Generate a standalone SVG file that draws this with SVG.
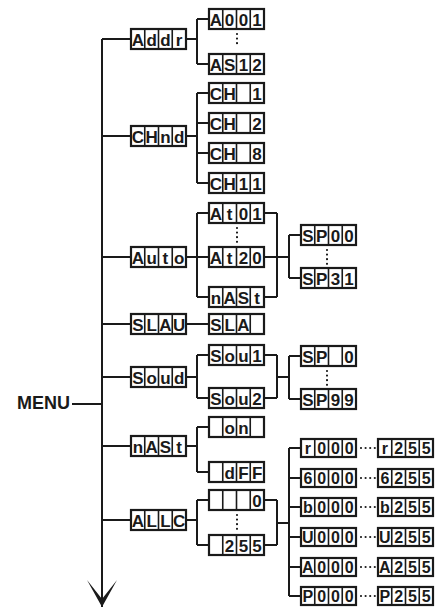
<svg xmlns="http://www.w3.org/2000/svg" width="435" height="611" viewBox="0 0 435 611">
<style>
.bg{fill:#fff}
.ln{fill:none;stroke:#1a1a1a;stroke-width:2}
.dots{fill:none;stroke:#1a1a1a;stroke-width:2.2;stroke-linecap:round;stroke-dasharray:0 4.6}
.box{fill:#fff;stroke:#1a1a1a;stroke-width:2.2}
.div{fill:none;stroke:#1a1a1a;stroke-width:1.6}
.ch{font-family:"Liberation Sans","DejaVu Sans",sans-serif;font-weight:bold;font-size:17px;text-anchor:middle;fill:#1a1a1a}
.sm{font-size:16px}
.menu{font-family:"Liberation Sans","DejaVu Sans",sans-serif;font-weight:bold;font-size:18px;text-anchor:end;fill:#1a1a1a}
</style>
<defs>
<marker id="arrow" markerUnits="userSpaceOnUse" viewBox="0 0 27 30" refX="27" refY="15" markerWidth="27" markerHeight="30" orient="auto">
<path d="M0,0 L27,15 L0,30 L19,15 Z" fill="#1a1a1a"/>
</marker>
<g id="cells20"><rect class="box" width="55" height="20"/><path class="div" d="M13.75,0V20M27.5,0V20M41.25,0V20"/></g>
<g id="cells18"><rect class="box" width="55" height="18"/><path class="div" d="M13.75,0V18M27.5,0V18M41.25,0V18"/></g>
</defs>
<rect class="bg" width="435" height="611"/>

<text class="menu" x="70" y="408.5">MENU</text>

<g id="connectors">
<path class="ln" d="M102,39 V607" marker-end="url(#arrow)"/>
<path class="ln" d="M72,404 H102"/>
<path class="ln" d="M102,39H131M102,136H131M102,257H131M102,324H131M102,377H131M102,446H131M102,520H131"/>
<path class="ln" d="M186,39H197M197,19V64M197,19H209M197,64H209"/>
<path class="ln" d="M186,136H197M197,93V183M197,93H209M197,123H209M197,153H209M197,183H209"/>
<path class="ln" d="M186,257H197M197,213V297M197,213H209M197,257H209M197,297H209M264,213H277M264,297H277M277,213V297M264,257H289M289,235V278M289,235H301M289,278H301"/>
<path class="ln" d="M186,324H209"/>
<path class="ln" d="M186,377H197M197,355V398M197,355H209M197,398H209M264,355H277M264,398H277M277,355V398M277,377H289M289,356V399M289,356H301M289,399H301"/>
<path class="ln" d="M186,446H197M197,427V472M197,427H209M197,472H209"/>
<path class="ln" d="M186,520H197M197,500V545M197,500H209M197,545H209M264,500H277M264,545H277M277,500V545M277,523H289M289,448V596M289,448H301M289,478H301M289,507H301M289,537H301M289,567H301M289,596H301"/>
<path class="dots" d="M237,34V47M237,228V242M327,250V264M327,371V385M237,515V530"/>
<path class="dots" d="M361,448H377M361,478H377M361,507H377M361,537H377M361,567H377M361,596H377"/>
</g>

<g id="n-addr" transform="translate(131,29)"><use href="#cells20"/><text class="ch" x="6.9 20.6 34.4 48.1" y="16.5">Addr</text></g>
<g id="n-a001" transform="translate(209,9)"><use href="#cells20"/><text class="ch" x="6.9 20.6 34.4 48.1" y="16.5">A001</text></g>
<g id="n-as12" transform="translate(209,54)"><use href="#cells20"/><text class="ch" x="6.9 20.6 34.4 48.1" y="16.5">AS12</text></g>

<g id="n-chnd" transform="translate(131,126)"><use href="#cells20"/><text class="ch" x="6.9 20.6 34.4 48.1" y="16.5">CHnd</text></g>
<g id="n-ch1" transform="translate(209,83)"><use href="#cells20"/><text class="ch" x="6.9 20.6 34.4 48.1" y="16.5">CH 1</text></g>
<g id="n-ch2" transform="translate(209,113)"><use href="#cells20"/><text class="ch" x="6.9 20.6 34.4 48.1" y="16.5">CH 2</text></g>
<g id="n-ch8" transform="translate(209,143)"><use href="#cells20"/><text class="ch" x="6.9 20.6 34.4 48.1" y="16.5">CH 8</text></g>
<g id="n-ch11" transform="translate(209,173)"><use href="#cells20"/><text class="ch" x="6.9 20.6 34.4 48.1" y="16.5">CH11</text></g>

<g id="n-auto" transform="translate(131,247)"><use href="#cells20"/><text class="ch" x="6.9 20.6 34.4 48.1" y="16.5">Auto</text></g>
<g id="n-at01" transform="translate(209,203)"><use href="#cells20"/><text class="ch" x="6.9 20.6 34.4 48.1" y="16.5">At01</text></g>
<g id="n-at20" transform="translate(209,247)"><use href="#cells20"/><text class="ch" x="6.9 20.6 34.4 48.1" y="16.5">At20</text></g>
<g id="n-nast2" transform="translate(209,287)"><use href="#cells20"/><text class="ch" x="6.9 20.6 34.4 48.1" y="16.5">nASt</text></g>
<g id="n-sp00" transform="translate(301,225)"><use href="#cells20"/><text class="ch" x="6.9 20.6 34.4 48.1" y="16.5">SP00</text></g>
<g id="n-sp31" transform="translate(301,268)"><use href="#cells20"/><text class="ch" x="6.9 20.6 34.4 48.1" y="16.5">SP31</text></g>

<g id="n-slau" transform="translate(131,314)"><use href="#cells20"/><text class="ch" x="6.9 20.6 34.4 48.1" y="16.5">SLAU</text></g>
<g id="n-sla" transform="translate(209,314)"><use href="#cells20"/><text class="ch" x="6.9 20.6 34.4" y="16.5">SLA</text></g>

<g id="n-soud" transform="translate(131,367)"><use href="#cells20"/><text class="ch" x="6.9 20.6 34.4 48.1" y="16.5">Soud</text></g>
<g id="n-sou1" transform="translate(209,345)"><use href="#cells20"/><text class="ch" x="6.9 20.6 34.4 48.1" y="16.5">Sou1</text></g>
<g id="n-sou2" transform="translate(209,388)"><use href="#cells20"/><text class="ch" x="6.9 20.6 34.4 48.1" y="16.5">Sou2</text></g>
<g id="n-sp0" transform="translate(301,346)"><use href="#cells20"/><text class="ch" x="6.9 20.6 34.4 48.1" y="16.5">SP 0</text></g>
<g id="n-sp99" transform="translate(301,389)"><use href="#cells20"/><text class="ch" x="6.9 20.6 34.4 48.1" y="16.5">SP99</text></g>

<g id="n-nast" transform="translate(131,436)"><use href="#cells20"/><text class="ch" x="6.9 20.6 34.4 48.1" y="16.5">nASt</text></g>
<g id="n-on" transform="translate(209,417)"><use href="#cells20"/><text class="ch" x="20.6 34.4" y="16.5">on</text></g>
<g id="n-dff" transform="translate(209,462)"><use href="#cells20"/><text class="ch" x="20.6 34.4 48.1" y="16.5">dFF</text></g>

<g id="n-allc" transform="translate(131,510)"><use href="#cells20"/><text class="ch" x="6.9 20.6 34.4 48.1" y="16.5">ALLC</text></g>
<g id="n-0" transform="translate(209,490)"><use href="#cells20"/><text class="ch" x="48.1" y="16.5">0</text></g>
<g id="n-255" transform="translate(209,535)"><use href="#cells20"/><text class="ch" x="20.6 34.4 48.1" y="16.5">255</text></g>

<g id="n-r000" transform="translate(301,439)"><use href="#cells18"/><text class="ch sm" x="6.9 20.6 34.4 48.1" y="15">r000</text></g>
<g id="n-r255" transform="translate(378,439)"><use href="#cells18"/><text class="ch sm" x="6.9 20.6 34.4 48.1" y="15">r255</text></g>
<g id="n-g000" transform="translate(301,469)"><use href="#cells18"/><text class="ch sm" x="6.9 20.6 34.4 48.1" y="15">6000</text></g>
<g id="n-g255" transform="translate(378,469)"><use href="#cells18"/><text class="ch sm" x="6.9 20.6 34.4 48.1" y="15">6255</text></g>
<g id="n-b000" transform="translate(301,498)"><use href="#cells18"/><text class="ch sm" x="6.9 20.6 34.4 48.1" y="15">b000</text></g>
<g id="n-b255" transform="translate(378,498)"><use href="#cells18"/><text class="ch sm" x="6.9 20.6 34.4 48.1" y="15">b255</text></g>
<g id="n-u000" transform="translate(301,528)"><use href="#cells18"/><text class="ch sm" x="6.9 20.6 34.4 48.1" y="15">U000</text></g>
<g id="n-u255" transform="translate(378,528)"><use href="#cells18"/><text class="ch sm" x="6.9 20.6 34.4 48.1" y="15">U255</text></g>
<g id="n-a000" transform="translate(301,558)"><use href="#cells18"/><text class="ch sm" x="6.9 20.6 34.4 48.1" y="15">A000</text></g>
<g id="n-a255" transform="translate(378,558)"><use href="#cells18"/><text class="ch sm" x="6.9 20.6 34.4 48.1" y="15">A255</text></g>
<g id="n-p000" transform="translate(301,587)"><use href="#cells18"/><text class="ch sm" x="6.9 20.6 34.4 48.1" y="15">P000</text></g>
<g id="n-p255" transform="translate(378,587)"><use href="#cells18"/><text class="ch sm" x="6.9 20.6 34.4 48.1" y="15">P255</text></g>
</svg>
